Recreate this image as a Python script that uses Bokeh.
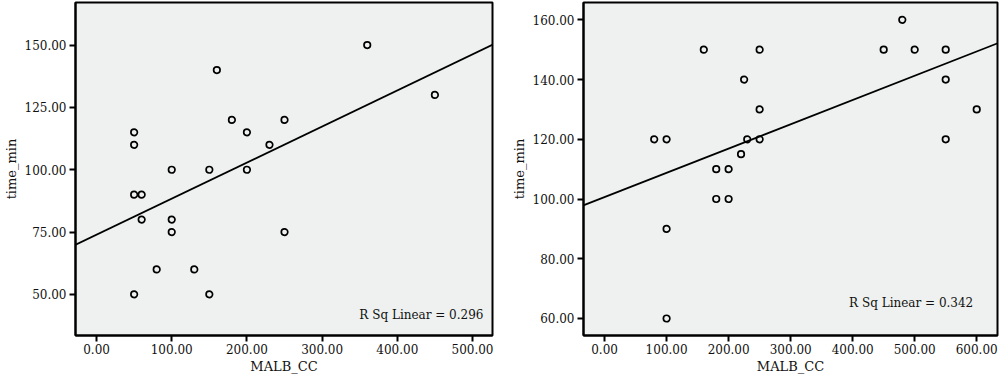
import numpy as np
from bokeh.plotting import figure
from bokeh.models import FixedTicker, PrintfTickFormatter, Range1d, Slope, Label
from bokeh.layouts import row
from bokeh.embed import file_html
from bokeh.resources import INLINE

# ---- data ----
left_malb = [50, 50, 160, 180, 200, 100, 150, 200, 50, 60, 60, 100, 100, 80, 130,
             50, 150, 360, 450, 250, 230, 250]
left_time = [115, 110, 140, 120, 115, 100, 100, 100, 90, 90, 80, 80, 75, 60, 60,
             50, 50, 150, 130, 120, 110, 75]

right_malb = [160, 225, 80, 100, 230, 220, 180, 200, 180, 200, 100, 100, 250, 250, 250,
              480, 450, 500, 550, 550, 600, 550]
right_time = [150, 140, 120, 120, 120, 115, 110, 110, 100, 100, 90, 60, 150, 130, 120,
              160, 150, 150, 150, 140, 130, 120]

left_xticks = [0, 100, 200, 300, 400, 500]
left_yticks = [50, 75, 100, 125, 150]
right_xticks = [0, 100, 200, 300, 400, 500, 600]
right_yticks = [60, 80, 100, 120, 140, 160]

r_sq = [0.296, 0.342]
x_title = "MALB_CC"
y_title = "time_min"

FONT = "DejaVu Serif"
BG = "#EEF1EF"
TXT = "#111111"


def make_plot(xs, ys, xr, yr, xticks, yticks, r2, lab_xy, width, mbl, mbr):
    p = figure(width=width, height=376, output_backend="svg", toolbar_location=None,
               x_range=Range1d(*xr), y_range=Range1d(*yr),
               min_border_left=mbl, min_border_right=mbr,
               min_border_top=2, min_border_bottom=40)
    p.background_fill_color = BG
    p.border_fill_color = "white"
    p.outline_line_color = "black"
    p.outline_line_width = 2
    p.grid.visible = False

    for ax, ticks in ((p.xaxis[0], xticks), (p.yaxis[0], yticks)):
        ax.ticker = FixedTicker(ticks=ticks)
        ax.formatter = PrintfTickFormatter(format="%.2f")
        ax.minor_tick_line_color = None
        ax.major_tick_in = 0
        ax.major_tick_out = 6
        ax.major_tick_line_width = 2
        ax.major_tick_line_color = "black"
        ax.axis_line_width = 2
        ax.axis_line_color = "black"
        ax.major_label_text_font = FONT
        ax.major_label_text_font_size = "12px"
        ax.major_label_text_color = TXT
        ax.axis_label_text_font = FONT
        ax.axis_label_text_font_size = "13px"
        ax.axis_label_text_font_style = "normal"
        ax.axis_label_text_color = TXT
    p.xaxis.axis_label = x_title
    p.yaxis.axis_label = y_title
    p.xaxis.major_label_standoff = 2
    p.xaxis.axis_label_standoff = 2
    p.yaxis.major_label_standoff = 3
    p.yaxis.axis_label_standoff = 3

    m, b = np.polyfit(np.array(xs, float), np.array(ys, float), 1)
    p.add_layout(Slope(gradient=m, y_intercept=b, line_color="black", line_width=1.8))

    p.scatter(xs, ys, marker="circle", size=6.5, fill_color=None,
              line_color="black", line_width=1.7)

    p.add_layout(Label(x=lab_xy[0], y=lab_xy[1], text="R Sq Linear = %.3f" % r2,
                       text_font=FONT, text_font_size="12px", text_color=TXT,
                       text_align="right", text_baseline="middle"))
    return p


p1 = make_plot(left_malb, left_time, (-28, 526.6), (33.5, 167.1),
               left_xticks, left_yticks, r_sq[0], (514.6, 41.8), 497, 66, 5)
p2 = make_plot(right_malb, right_time, (-34, 633.5), (54.3, 165.8),
               right_xticks, right_yticks, r_sq[1], (594.4, 65.2), 502, 86, 2)

layout = row(p1, p2)
open("out.html", "w").write(file_html(layout, INLINE))
